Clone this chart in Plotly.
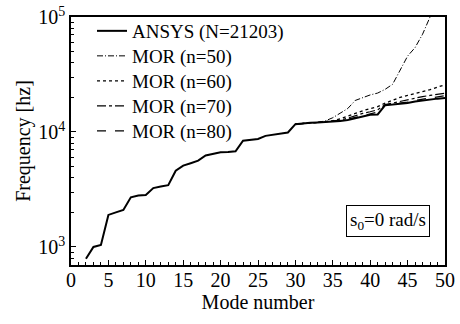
import plotly.graph_objects as go

# ---- data ----
ansys_modes = list(range(2, 51))
ansys_freq = [790, 1000, 1040, 1900, 2000, 2100, 2700, 2800, 2830, 3250,
              3350, 3450, 4600, 5100, 5350, 5630, 6250, 6450, 6650, 6700,
              6800, 8400, 8600, 8700, 9250, 9500, 9750, 9900, 11700, 11900,
              12000, 12100, 12200, 12300, 12450, 12700, 13100, 13600, 14100, 14200,
              17100, 17300, 17500, 17900, 18400, 18800, 19200, 19500, 19700]

mor_modes = list(range(30, 51))
mor50 = [11700, 11900, 12000, 12100, 12500, 13300, 14500, 16000, 18800, 20000,
         21000, 21800, 23500, 26000, 35000, 45700, 54200, 70800, 100000, 138000, 190000]
mor60 = [11700, 11900, 12000, 12100, 12300, 12500, 13000, 13800, 14500, 15300,
         16000, 16600, 17800, 19000, 20000, 20800, 21500, 22300, 23300, 24500, 25800]
mor70 = [11700, 11900, 12000, 12100, 12250, 12400, 12700, 13200, 13900, 14500,
         15000, 15600, 17300, 17900, 18500, 19100, 19700, 20300, 20800, 21300, 21700]
mor80 = [11700, 11900, 12000, 12100, 12200, 12300, 12550, 12900, 13400, 14000,
         14500, 14900, 17200, 17500, 17800, 18200, 18800, 19300, 19800, 20300, 20700]

names = ["ANSYS (N=21203)", "MOR (n=50)", "MOR (n=60)", "MOR (n=70)", "MOR (n=80)"]
x_ticks = list(range(0, 51, 5))
y_ticks = [1000, 10000, 100000]
y_ticktext = ["10<sup>3</sup>", "10<sup>4</sup>", "10<sup>5</sup>"]

FONT = "Liberation Serif, Times New Roman, serif"

# plot area geometry (px)
L, R, T, B = 71, 15, 17, 59
H = 324 - T - B
W = 460 - L - R

fig = go.Figure()
series = [(ansys_modes, ansys_freq, dict(color="black", width=2)),
          (mor_modes, mor50, dict(color="black", width=1, dash="6px,2px,1px,2px")),
          (mor_modes, mor60, dict(color="black", width=1.3, dash="dot")),
          (mor_modes, mor70, dict(color="black", width=1.2, dash="dashdot")),
          (mor_modes, mor80, dict(color="black", width=1.2, dash="dash"))]
legend_keys = ["legend", "legend2", "legend3", "legend4", "legend5"]
for (xs, ys, ln), nm, lk in zip(series, names, legend_keys):
    fig.add_trace(go.Scatter(x=xs, y=ys, mode="lines", name=nm, line=ln, legend=lk))

minor_y = [m * 10 ** e for e in (2, 3, 4) for m in range(2, 10) if 697 <= m * 10 ** e <= 100000]

legend_px = [31, 56, 81, 106, 131]
leg_x = (92 - L) / W
legends = {}
for lk, py in zip(legend_keys, legend_px):
    legends[lk] = dict(x=leg_x, y=(324 - B - py) / H, xanchor="left", yanchor="middle",
                       bgcolor="rgba(0,0,0,0)", borderwidth=0,
                       font=dict(family=FONT, size=19))

fig.update_layout(
    width=460, height=324,
    margin=dict(l=L, r=R, t=T, b=B),
    paper_bgcolor="white", plot_bgcolor="white",
    font=dict(family=FONT, size=19, color="black"),
    showlegend=True,
    xaxis=dict(range=[0, 50], tickmode="array", tickvals=x_ticks, automargin=False,
               ticks="inside", ticklen=5, tickcolor="black", ticklabelstandoff=-4,
               showline=True, linecolor="black", linewidth=1.5, mirror=True,
               showgrid=False, zeroline=False,
               tickfont=dict(family=FONT, size=20),
               minor=dict(ticks="inside", ticklen=3, dtick=1, tickcolor="black"),
               title=dict(text="Mode number", font=dict(family=FONT, size=20), standoff=4)),
    yaxis=dict(type="log", range=[2.843, 5], tickmode="array", tickvals=y_ticks,
               automargin=False,
               ticktext=y_ticktext, ticks="inside", ticklen=5, tickcolor="black",
               showline=True, linecolor="black", linewidth=1.5, mirror=True,
               showgrid=False, zeroline=False,
               tickfont=dict(family=FONT, size=20),
               minor=dict(ticks="inside", ticklen=3, tickmode="array",
                          tickvals=minor_y, tickcolor="black"),
               title=dict(text="Frequency [hz]", font=dict(family=FONT, size=20), standoff=2)),
    annotations=[dict(text="s<sub>0</sub>=0 rad/s", x=48.0, y=(324 - B - 237) / H,
                      xref="x", yref="paper", xanchor="right", yanchor="bottom",
                      showarrow=False, bordercolor="black", borderwidth=1, borderpad=3,
                      bgcolor="white", font=dict(family=FONT, size=19))],
    **legends,
)

fig.write_html("out.html", config={"displayModeBar": False},
               post_script="document.body.style.margin='0';")
